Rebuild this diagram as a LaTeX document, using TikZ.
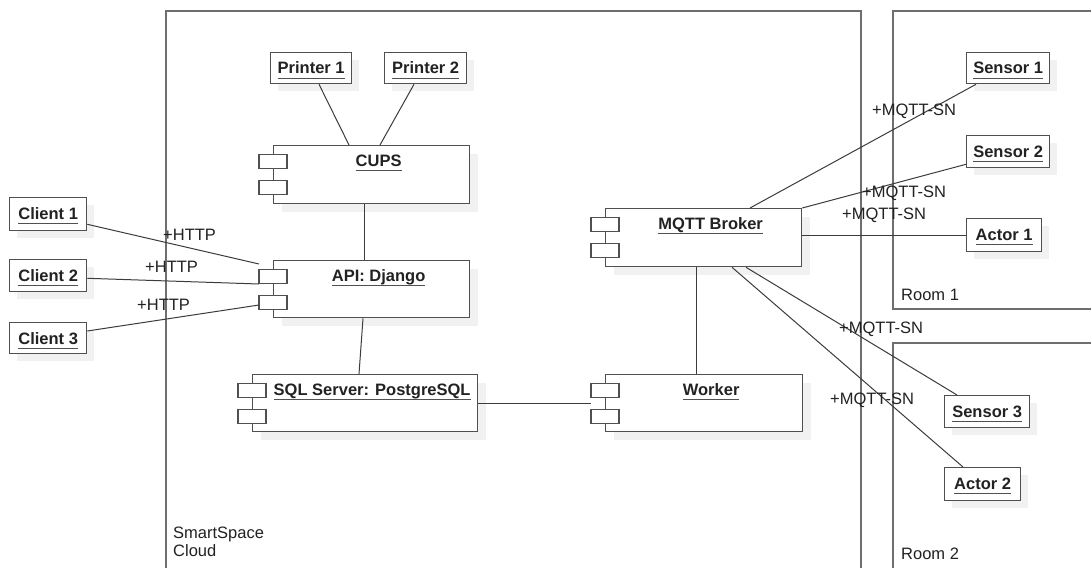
\documentclass[tikz,border=0pt]{standalone}
\usepackage{fontspec}
\setmainfont{Liberation Sans}
\usetikzlibrary{calc,shadows}
\definecolor{ln}{HTML}{3C3C3C}
\definecolor{bd}{HTML}{505050}
\definecolor{fr}{HTML}{6E6E6E}
\definecolor{tx}{HTML}{222222}
\newcommand\myul[1]{\setbox0\hbox{#1}\rlap{\color{bd}\rule[-5pt]{\wd0}{1pt}}\box0}
\tikzset{
  ubx/.style={draw=bd, line width=1.3pt, fill=white, rectangle, inner sep=0pt,
    drop shadow={shadow xshift=7pt, shadow yshift=-7pt, fill=black!10}},
  cbx/.style={draw=bd, line width=1.3pt, fill=white, rectangle, inner sep=0pt,
    drop shadow={shadow xshift=8pt, shadow yshift=-8pt, fill=black!10}},
  ic/.style={draw=bd, line width=1.1pt, fill=white, rectangle, inner sep=0pt,
    minimum width=28pt, minimum height=14pt},
  ttl/.style={inner sep=0pt, text=tx, font=\fontsize{16.5}{18}\selectfont\bfseries},
  lbl/.style={inner sep=0pt, text=tx, font=\fontsize{16.5}{18}\selectfont},
  conn/.style={draw=ln, line width=1pt},
  frame/.style={draw=fr, line width=1.4pt}
}
\newcommand\ubox[6]{%
  \node[ubx, minimum width={#4-#2}, minimum height={#5-#3}, anchor=north west] (#1) at (#2,#3) {};
  \node[ttl, anchor=base] (#1t) at ($(#1.north)+(0,22)$) {\myul{#6}};
}
\newcommand\comp[6]{%
  \node[cbx, minimum width={#4-#2}, minimum height={#5-#3}, anchor=north west] (#1) at (#2,#3) {};
  \node[ic, anchor=north] (#1ia) at ($(#1.north west)+(0,9)$) {};
  \node[ic, anchor=north] (#1ib) at ($(#1.north west)+(0,35)$) {};
  \node[ttl, anchor=base] (#1t) at ($(#1.north)+(7,21)$) {\myul{#6}};
}
\begin{document}
\begin{tikzpicture}[x=1pt,y=-1pt]
\clip (0,0) rectangle (1091,567);
\fill[white] (0,0) rectangle (1091,567);
% frames
\draw[frame] (166,590) -- (166,11) -- (861,11) -- (861,590);
\draw[frame] (1100,309) -- (893,309) -- (893,11) -- (1100,11);
\draw[frame] (1100,343) -- (893,343) -- (893,590);
\node[lbl, anchor=west] (room1) at (901,295) {Room 1};
\node[lbl, anchor=west] (room2) at (901,554) {Room 2};
\node[lbl, anchor=west, align=left] (cloud) at (173,542) {SmartSpace\\Cloud};
% boxes
\ubox{p1}{270}{52}{351}{83}{Printer 1}
\ubox{p2}{384}{52}{466}{83}{Printer 2}
\ubox{c1}{9}{197}{86}{230}{Client 1}
\ubox{c2}{9}{259}{86}{291}{Client 2}
\ubox{c3}{9}{322}{86}{353}{Client 3}
\ubox{s1}{966}{52}{1049}{83}{Sensor 1}
\ubox{s2}{966}{135}{1049}{167}{Sensor 2}
\ubox{a1}{966}{218}{1041}{251}{Actor 1}
\ubox{s3}{944}{395}{1029}{427}{Sensor 3}
\ubox{a2}{944}{467}{1020}{500}{Actor 2}
\comp{cups}{273}{145}{469}{203}{CUPS}
\comp{api}{273}{260}{469}{317}{API: Django}
\comp{sql}{252}{374}{477}{431}{SQL Server: PostgreSQL}
\comp{worker}{605}{374}{802}{431}{Worker}
\comp{mqtt}{605}{208}{801}{266}{MQTT Broker}
% connectors
\draw[conn] ($(p1.south west)+(49,0)$) -- ($(cups.north west)+(76,0)$);
\draw[conn] ($(p2.south west)+(30,0)$) -- ($(cups.north west)+(107,0)$);
\draw[conn] ($(cups.south west)+(91,0)$) -- ($(api.north west)+(91,0)$);
\draw[conn] ($(api.south west)+(90,0)$) -- ($(sql.north west)+(107,0)$);
\draw[conn] ($(c1.south east)+(0,-7)$) -- ($(api.north west)+(-14,4)$);
\draw[conn] ($(c2.south east)+(0,-14)$) -- ($(api.north west)+(-14,24)$);
\draw[conn] ($(c3.north east)+(0,9)$) -- ($(api.north west)+(-14,45)$);
\draw[conn] (sql.east) -- ($(worker.west)+(-14,0)$);
\draw[conn] ($(mqtt.south west)+(91,0)$) -- ($(worker.north west)+(91,0)$);
\draw[conn] ($(mqtt.north west)+(145,0)$) -- ($(s1.south west)+(10,0)$);
\draw[conn] (mqtt.north east) -- ($(s2.south west)+(0,-4)$);
\draw[conn] (mqtt.east |- a1.west) -- (a1.west);
\draw[conn] ($(mqtt.south west)+(141,0)$) -- ($(s3.north west)+(13,0)$);
\draw[conn] ($(mqtt.south west)+(127,0)$) -- ($(a2.north west)+(19,0)$);
% labels
\node[lbl, anchor=west] (h1) at (163,235) {+HTTP};
\node[lbl, anchor=west] (h2) at (145,267) {+HTTP};
\node[lbl, anchor=west] (h3) at (137,305) {+HTTP};
\node[lbl, anchor=west] (m1) at (872,111) {+MQTT-SN};
\node[lbl, anchor=west] (m2) at (862,193) {+MQTT-SN};
\node[lbl, anchor=west] (m3) at (842,215) {+MQTT-SN};
\node[lbl, anchor=west] (m4) at (839,329) {+MQTT-SN};
\node[lbl, anchor=west] (m5) at (830,400) {+MQTT-SN};
\end{tikzpicture}
\end{document}
